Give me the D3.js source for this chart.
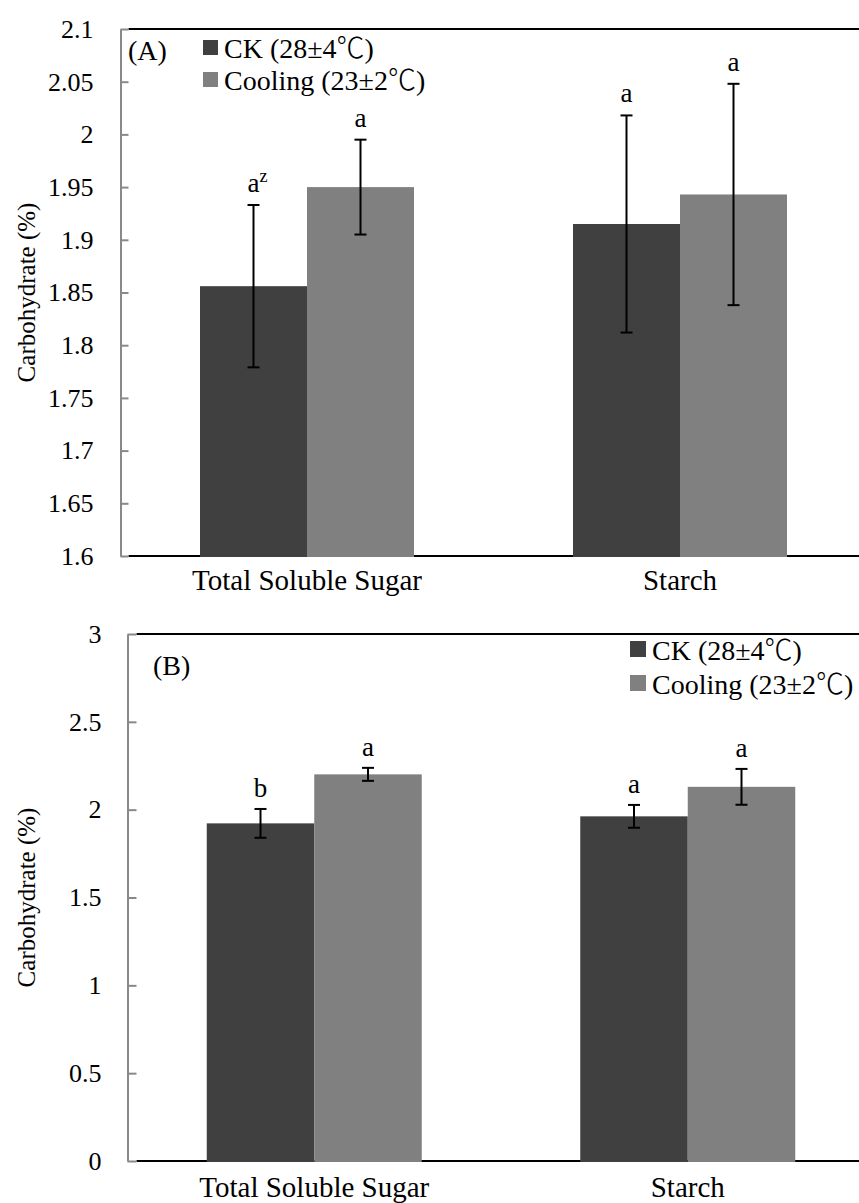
<!DOCTYPE html>
<html>
<head>
<meta charset="utf-8">
<script src="https://cdn.jsdelivr.net/npm/d3@7/dist/d3.min.js"></script>
<style>
  html, body { margin: 0; padding: 0; background: #fff; }
  svg { display: block; }
</style>
</head>
<body>
<svg id="chart" width="859" height="1203"></svg>
<script>
// ---------- DATA ----------
const categories = ["Total Soluble Sugar", "Starch"];
const seriesNames = ["CK (28±4℃)", "Cooling (23±2℃)"];
const seriesColors = ["#404040", "#808080"];

// Panel A
const panelA_label = "(A)";
const panelA_ck = [1.856, 1.915];
const panelA_ckErr = [0.077, 0.103];
const panelA_cool = [1.950, 1.943];
const panelA_coolErr = [0.045, 0.105];
const panelA_ckLetters = ["a", "a"];
const panelA_coolLetters = ["a", "a"];
const panelA_ticks = [1.6, 1.65, 1.7, 1.75, 1.8, 1.85, 1.9, 1.95, 2, 2.05, 2.1];
const panelA_tickLabels = ["1.6", "1.65", "1.7", "1.75", "1.8", "1.85", "1.9", "1.95", "2", "2.05", "2.1"];

// Panel B
const panelB_label = "(B)";
const panelB_ck = [1.922, 1.962];
const panelB_ckErr = [0.082, 0.065];
const panelB_cool = [2.201, 2.130];
const panelB_coolErr = [0.037, 0.102];
const panelB_ckLetters = ["b", "a"];
const panelB_coolLetters = ["a", "a"];
const panelB_ticks = [0, 0.5, 1, 1.5, 2, 2.5, 3];
const panelB_tickLabels = ["0", "0.5", "1", "1.5", "2", "2.5", "3"];

const yTitle = "Carbohydrate (%)";

// ---------- DRAW ----------
const FONT = '"Liberation Serif", Tinos, "Times New Roman", Times, "DejaVu Serif", "Noto Serif", serif';
const CJK = '"Noto Sans CJK SC", "Noto Sans CJK JP", sans-serif';
const svg = d3.select("#chart");

function txt(sel) { return sel.attr("font-family", FONT).style("font-family", FONT).attr("fill", "#000"); }

function drawPanel(cfg) {
  const g = svg.append("g");
  const y = d3.scaleLinear().domain(cfg.domain).range([cfg.bottom, cfg.top]);
  const x = d3.scaleBand().domain(categories)
    .range([cfg.axisX, cfg.axisX + cfg.band * categories.length]).padding(0);
  const groupW = cfg.groupW;
  const xs = d3.scaleBand().domain(seriesNames).range([0, groupW]).padding(0);

  // top border & bottom axis line (black)
  g.append("line").attr("x1", cfg.axisX + cfg.tick).attr("x2", x.range()[1])
    .attr("y1", y(cfg.domain[1])).attr("y2", y(cfg.domain[1]))
    .attr("stroke", "#000").attr("stroke-width", 2);
  g.append("line").attr("x1", cfg.axisX + cfg.tick).attr("x2", x.range()[1])
    .attr("y1", y(cfg.domain[0])).attr("y2", y(cfg.domain[0]))
    .attr("stroke", "#000").attr("stroke-width", 2);

  // y axis
  const yAxis = d3.axisLeft(y).tickValues(cfg.ticks)
    .tickFormat((d, i) => cfg.tickLabels[i])
    .tickSizeInner(-cfg.tick).tickSizeOuter(0).tickPadding(cfg.tickPad);
  const ya = g.append("g").attr("transform", `translate(${cfg.axisX},0)`).call(yAxis);
  ya.attr("font-family", FONT);
  ya.select(".domain").attr("stroke", "#898989").attr("stroke-width", 2);
  ya.selectAll(".tick line").attr("stroke", "#898989").attr("stroke-width", 2);
  txt(ya.selectAll(".tick text")).attr("font-size", 26);

  // bars
  const series = [
    { name: seriesNames[0], color: seriesColors[0], vals: cfg.ck, errs: cfg.ckErr, letters: cfg.ckLetters },
    { name: seriesNames[1], color: seriesColors[1], vals: cfg.cool, errs: cfg.coolErr, letters: cfg.coolLetters }
  ];
  series.forEach(s => {
    categories.forEach((c, i) => {
      const x0 = x(c) + (x.bandwidth() - groupW) / 2 + xs(s.name);
      const v = s.vals[i];
      g.append("rect").attr("x", x0).attr("width", xs.bandwidth())
        .attr("y", y(v)).attr("height", y(cfg.domain[0]) - y(v) + 1)
        .attr("fill", s.color);
    });
  });
  // error bars + letters
  series.forEach((s, si) => {
    categories.forEach((c, i) => {
      const cx = x(c) + (x.bandwidth() - groupW) / 2 + xs(s.name) + xs.bandwidth() / 2;
      const v = s.vals[i], e = s.errs[i];
      const yt = y(v + e), yb = y(v - e);
      g.append("line").attr("x1", cx).attr("x2", cx).attr("y1", yt).attr("y2", yb)
        .attr("stroke", "#000").attr("stroke-width", 2);
      [yt, yb].forEach(yy => g.append("line").attr("x1", cx - 6).attr("x2", cx + 6)
        .attr("y1", yy).attr("y2", yy).attr("stroke", "#000").attr("stroke-width", 2));
      const t = txt(g.append("text")).attr("x", cx).attr("y", yt - cfg.letterGap)
        .attr("text-anchor", "middle").attr("font-size", 27);
      t.append("tspan").text(s.letters[i]);
      if (cfg.sup && si === 0 && i === 0) {
        t.attr("text-anchor", "start").attr("x", cx - 6);
        t.append("tspan").attr("dy", -10).attr("font-size", 18).text(cfg.sup);
      }
    });
  });

  // x axis labels
  const xAxis = d3.axisBottom(x).tickSize(0).tickPadding(0);
  const xa = g.append("g").attr("transform", `translate(0,${cfg.bottom})`).call(xAxis);
  xa.attr("font-family", FONT);
  xa.select(".domain").remove();
  txt(xa.selectAll(".tick text")).attr("dy", null).attr("y", cfg.catBase).attr("font-size", 29);

  // panel label
  txt(g.append("text")).attr("x", cfg.labelX).attr("y", cfg.labelY).attr("font-size", 28).text(cfg.label);

  // legend
  seriesNames.forEach((n, i) => {
    g.append("rect").attr("x", cfg.legX).attr("y", cfg.legY[i] - cfg.legSq - 3)
      .attr("width", cfg.legSq).attr("height", cfg.legSq).attr("fill", seriesColors[i]);
    const t = txt(g.append("text")).attr("x", cfg.legX + cfg.legSq + 6).attr("y", cfg.legY[i])
      .attr("font-size", 28);
    n.split(/(℃)/).forEach(part => {
      if (!part) return;
      const sp = t.append("tspan").text(part);
      if (part === "℃") sp.attr("font-family", CJK).style("font-family", CJK).attr("font-weight", 300);
    });
  });

  // y title
  txt(g.append("text")).attr("transform", `translate(35,${(cfg.top + cfg.bottom) / 2}) rotate(-90)`)
    .attr("text-anchor", "middle").attr("font-size", 25).text(yTitle);
}

drawPanel({
  domain: [1.6, 2.1], top: 29, bottom: 556, axisX: 120.5, band: 373, groupW: 214,
  tick: 8, tickPad: 27, ticks: panelA_ticks, tickLabels: panelA_tickLabels,
  ck: panelA_ck, ckErr: panelA_ckErr, cool: panelA_cool, coolErr: panelA_coolErr,
  ckLetters: panelA_ckLetters, coolLetters: panelA_coolLetters, sup: "z", letterGap: 13,
  catBase: 34, label: panelA_label, labelX: 128, labelY: 60,
  legX: 203, legY: [58, 90], legSq: 15
});

drawPanel({
  domain: [0, 3], top: 634, bottom: 1161, axisX: 127.5, band: 373.5, groupW: 215,
  tick: 9, tickPad: 26, ticks: panelB_ticks, tickLabels: panelB_tickLabels,
  ck: panelB_ck, ckErr: panelB_ckErr, cool: panelB_cool, coolErr: panelB_coolErr,
  ckLetters: panelB_ckLetters, coolLetters: panelB_coolLetters, sup: null, letterGap: 12,
  catBase: 36, label: panelB_label, labelX: 153, labelY: 675,
  legX: 630, legY: [660, 694], legSq: 16
});
</script>
</body>
</html>
